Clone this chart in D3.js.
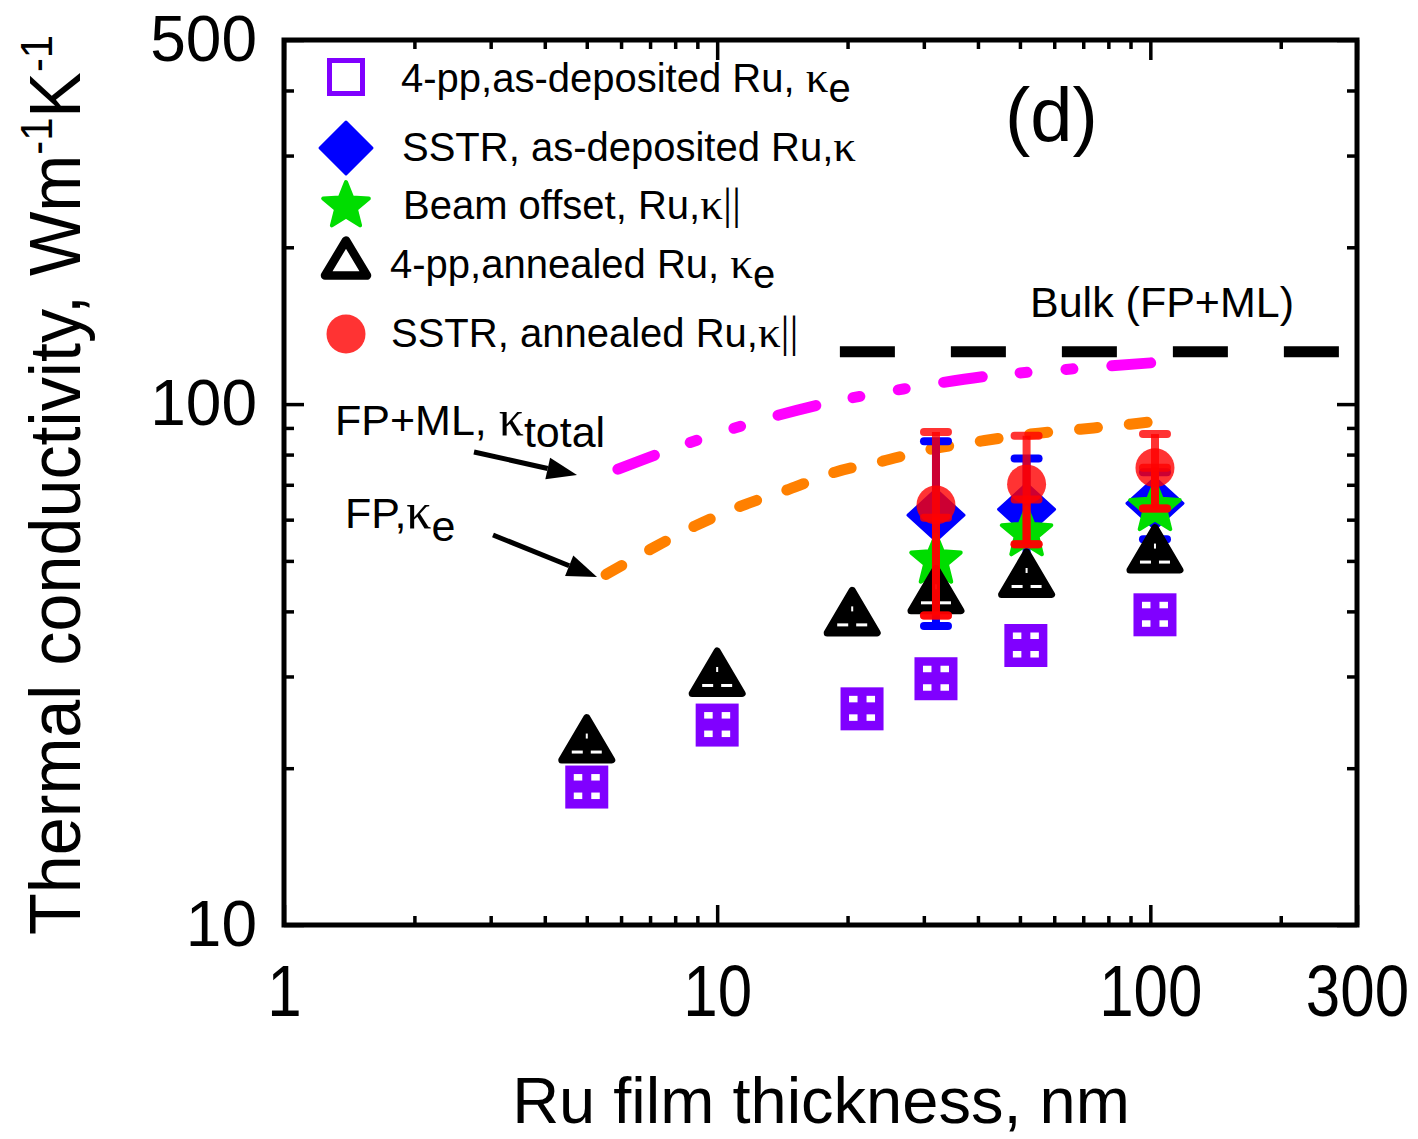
<!DOCTYPE html>
<html><head><meta charset="utf-8">
<script src="https://cdn.jsdelivr.net/npm/d3@7"></script>
<style>
body{margin:0;background:#fff}
svg{display:block}
text{font-family:"Liberation Sans",Arial,sans-serif;fill:#000}
</style>
</head><body>
<svg id="c" width="1418" height="1139"></svg>
<script>
// ---------- data ----------
const xMajorTicks = [1, 10, 100, 300];
const xMinorTicks = [2,3,4,5,6,7,8,9,20,30,40,50,60,70,80,90,200];
const yMajorTicks = [10, 100, 500];
const yMinorTicks = [20,30,40,50,60,70,80,90,200,300,400];

// 4-pp, as-deposited Ru (purple squares)
const sqX = [5.0, 10.0, 21.6, 32.0, 51.6, 102.5];
const sqY = [18.4, 24.2, 26.0, 29.7, 34.4, 39.4];
// 4-pp, annealed Ru (black triangles)
const triX = [5.0, 10.0, 20.5, 32.0, 51.8, 102.5];
const triY = [22.8, 30.6, 40.0, 44.1, 47.4, 52.8];
// SSTR, as-deposited Ru (blue diamonds)
const diaX = [32.0, 51.8, 102.5];
const diaY = [61.2, 62.8, 64.5];
const diaLo = [37.5, 47.0, 55.0];
const diaHi = [84.9, 78.6, 74.0];
// Beam offset (green stars)
const starX = [32.0, 51.8, 102.5];
const starY = [50.5, 57.0, 63.7];
const starLo = [39.3, 53.8, 63.0];
const starHi = [60.5, 65.6, 75.5];
// SSTR, annealed Ru (red circles)
const cirX = [32.0, 51.8, 102.5];
const cirY = [64.0, 70.2, 75.5];
const cirLo = [39.3, 53.8, 63.0];
const cirHi = [88.4, 86.9, 87.6];
// Model curves
const fpmlX = [5.9, 7.51, 11.34, 17.46, 26.9, 42.3, 65.7, 103];
const fpmlY = [75.0, 80.9, 90.7, 100, 106.9, 113.2, 116.8, 120.2];
const fpX = [5.54, 7.01, 8.87, 11.34, 14.63, 18.7, 24.1, 31.1, 40.6, 52.9, 69.0, 89.9, 103];
const fpY = [47.1, 52.6, 58.3, 63.7, 68.6, 74.0, 77.7, 81.9, 84.9, 87.6, 89.5, 91.5, 92.7];
const bulkX = [19.2, 275];
const bulkY = [126, 126];

const legendLabels = [
  ["4-pp,as-deposited Ru, ", "κ", "e", ""],
  ["SSTR, as-deposited Ru,", "κ", "", ""],
  ["Beam offset, Ru,", "κ", "", "||"],
  ["4-pp,annealed Ru, ", "κ", "e", ""],
  ["SSTR, annealed Ru,", "κ", "", "||"]
];

// ---------- layout ----------
const L = 284, R = 1357, T = 40, B = 925;
const x = d3.scaleLog().domain([1, 300]).range([L, R]);
const y = d3.scaleLog().domain([10, 500]).range([B, T]);
const svg = d3.select('#c');

const zip = (a, b) => a.map((v, i) => [v, b[i]]);

// ---------- axes ----------
function axisG(axis, tr) {
  const g = svg.append('g').attr('transform', tr).call(axis);
  g.select('.domain').remove();
  g.selectAll('line').attr('stroke', '#000').attr('stroke-width', 3.5);
  return g;
}
const fmt = d3.format('d');
const gxb = axisG(d3.axisBottom(x).tickValues(xMajorTicks).tickSize(-20).tickPadding(40).tickFormat(fmt), `translate(0,${B})`);
gxb.selectAll('text').attr('font-size', 72).attr('transform', 'scale(0.86,1)')
   .style('font-family', '"Liberation Sans",Arial,sans-serif');
axisG(d3.axisBottom(x).tickValues(xMinorTicks).tickSize(-9).tickFormat(''), `translate(0,${B})`);
axisG(d3.axisTop(x).tickValues(xMajorTicks).tickSize(-20).tickFormat(''), `translate(0,${T})`);
axisG(d3.axisTop(x).tickValues(xMinorTicks).tickSize(-9).tickFormat(''), `translate(0,${T})`);
const gyl = axisG(d3.axisLeft(y).tickValues(yMajorTicks).tickSize(-20).tickPadding(27).tickFormat(fmt), `translate(${L},0)`);
gyl.selectAll('text').attr('font-size', 64).style('font-family', '"Liberation Sans",Arial,sans-serif');
axisG(d3.axisLeft(y).tickValues(yMinorTicks).tickSize(-10).tickFormat(''), `translate(${L},0)`);
axisG(d3.axisRight(y).tickValues(yMajorTicks).tickSize(-20).tickFormat(''), `translate(${R},0)`);
axisG(d3.axisRight(y).tickValues(yMinorTicks).tickSize(-10).tickFormat(''), `translate(${R},0)`);

svg.append('rect').attr('x', L).attr('y', T).attr('width', R - L).attr('height', B - T)
  .attr('fill', 'none').attr('stroke', '#000').attr('stroke-width', 5);

// axis titles
svg.append('text').attr('x', 821).attr('y', 1123).attr('text-anchor', 'middle')
  .attr('font-size', 65).text('Ru film thickness, nm');

const yt = svg.append('text').attr('transform', 'translate(80,485) rotate(-90)')
  .attr('text-anchor', 'middle').attr('font-size', 72)
  .attr('textLength', 900).attr('lengthAdjust', 'spacingAndGlyphs');
yt.append('tspan').text('Thermal conductivity, Wm');
yt.append('tspan').attr('font-size', 44).attr('dy', -28).text('-1');
yt.append('tspan').attr('dy', 28).text('K');
yt.append('tspan').attr('font-size', 44).attr('dy', -28).text('-1');

// ---------- curves ----------
const line = d3.line().x(d => x(d[0])).y(d => y(d[1])).curve(d3.curveMonotoneX);
svg.append('path').attr('d', line(zip(bulkX, bulkY))).attr('fill', 'none')
  .attr('stroke', '#000').attr('stroke-width', 11).attr('stroke-dasharray', '55,56');
svg.append('path').attr('d', line(zip(fpmlX, fpmlY))).attr('fill', 'none')
  .attr('stroke', '#ff00ff').attr('stroke-width', 11).attr('stroke-linecap', 'round')
  .attr('stroke-dasharray', '39,38,7,39,7,39');
svg.append('path').attr('d', line(zip(fpX, fpY))).attr('fill', 'none')
  .attr('stroke', '#ff8000').attr('stroke-width', 11).attr('stroke-linecap', 'round')
  .attr('stroke-dasharray', '18,32');

// ---------- marker helpers ----------
function drawSquareFilled(g) {
  const s = 43, h = s / 2;
  g.append('rect').attr('x', -h).attr('y', -h).attr('width', s).attr('height', s).attr('fill', '#8000ff');
  [[8.5, 8.5], [26, 8.5], [8.5, 27], [26, 27]].forEach(([dx, dy]) =>
    g.append('rect').attr('x', -h + dx).attr('y', -h + dy).attr('width', 8.5).attr('height', 6.5).attr('fill', '#fff'));
}
function drawTriangleFilled(g) {
  g.append('path').attr('d', 'M0,-21L25,21.5L-25,21.5Z').attr('fill', '#000')
    .attr('stroke', '#000').attr('stroke-width', 7).attr('stroke-linejoin', 'round');
  g.append('rect').attr('x', -15).attr('y', 12).attr('width', 11).attr('height', 3).attr('fill', '#fff');
  g.append('rect').attr('x', 4).attr('y', 12).attr('width', 11).attr('height', 3).attr('fill', '#fff');
  g.append('rect').attr('x', -1).attr('y', -5).attr('width', 2).attr('height', 5).attr('fill', '#fff');
}
function diamondPath(w, h) { return `M0,${-h}L${w},0L0,${h}L${-w},0Z`; }
function starPath(Ro, Ri) {
  const p = [];
  for (let i = 0; i < 10; i++) {
    const r = i % 2 ? Ri : Ro, a = -Math.PI / 2 + i * Math.PI / 5;
    p.push([r * Math.cos(a), r * Math.sin(a)]);
  }
  return 'M' + p.map(d => d.join(',')).join('L') + 'Z';
}
function errBar(g, px, y1, y2, color, capHalf) {
  const op = color === '#ff0000' ? 0.8 : 1;
  g.append('line').attr('x1', px).attr('x2', px).attr('y1', y1).attr('y2', y2)
    .attr('stroke', color).attr('stroke-width', 8).attr('stroke-opacity', op);
  [y1, y2].forEach(yy => g.append('line').attr('x1', px - capHalf).attr('x2', px + capHalf)
    .attr('y1', yy).attr('y2', yy).attr('stroke', color).attr('stroke-width', 8)
    .attr('stroke-linecap', 'round').attr('stroke-opacity', op));
}

// ---------- data marks ----------
const gm = svg.append('g');
sqX.forEach((v, i) => drawSquareFilled(gm.append('g').attr('transform', `translate(${x(v)},${y(sqY[i])})`)));
diaX.forEach((v, i) => errBar(gm, x(v), y(diaHi[i]), y(diaLo[i]), '#0000ff', 12));
diaX.forEach((v, i) => gm.append('path').attr('d', diamondPath(28, 25.5))
  .attr('transform', `translate(${x(v)},${y(diaY[i])})`).attr('fill', '#0000ff')
  .attr('stroke', '#0000ff').attr('stroke-width', 3).attr('stroke-linejoin', 'round'));
starX.forEach((v, i) => gm.append('path').attr('d', starPath(26, 11.5))
  .attr('transform', `translate(${x(v)},${y(starY[i]) + 2})`).attr('fill', '#00dd00')
  .attr('stroke', '#00dd00').attr('stroke-width', 4).attr('stroke-linejoin', 'round'));
triX.forEach((v, i) => drawTriangleFilled(gm.append('g').attr('transform', `translate(${x(v)},${y(triY[i])})`)));
cirX.forEach((v, i) => gm.append('circle').attr('cx', x(v)).attr('cy', y(cirY[i])).attr('r', 19.5)
  .attr('fill', '#ff0000').attr('fill-opacity', 0.8));
cirX.forEach((v, i) => errBar(gm, x(v), y(cirHi[i]), y(cirLo[i]), '#ff0000', 12));
starX.forEach((v, i) => errBar(gm, x(v), y(starHi[i]), y(starLo[i]), '#ff0000', 12));

// ---------- legend ----------
const lgY = [77, 148, 204, 258, 334];
const lgTextX = [401, 402, 403, 390, 391];
const lgBase = [92, 161, 219, 278, 347];
const lg = svg.append('g');
lg.append('rect').attr('x', 346 - 16.5).attr('y', lgY[0] - 16.5).attr('width', 33).attr('height', 33)
  .attr('fill', 'none').attr('stroke', '#8000ff').attr('stroke-width', 5);
lg.append('path').attr('d', diamondPath(26, 26)).attr('transform', `translate(346,${lgY[1]})`)
  .attr('fill', '#0000ff').attr('stroke', '#0000ff').attr('stroke-width', 3).attr('stroke-linejoin', 'round');
lg.append('path').attr('d', starPath(24, 10.5)).attr('transform', `translate(346,${lgY[2] + 2})`)
  .attr('fill', '#00dd00').attr('stroke', '#00dd00').attr('stroke-width', 4).attr('stroke-linejoin', 'round');
lg.append('path').attr('d', 'M0,-17.5L21,17.5L-21,17.5Z').attr('transform', `translate(346,${lgY[3]})`)
  .attr('fill', 'none').attr('stroke', '#000').attr('stroke-width', 8.5).attr('stroke-linejoin', 'round');
lg.append('circle').attr('cx', 346).attr('cy', lgY[4]).attr('r', 19.5).attr('fill', '#ff0000').attr('fill-opacity', 0.8);

legendLabels.forEach((lab, i) => {
  const t = lg.append('text').attr('x', lgTextX[i]).attr('y', lgBase[i]).attr('font-size', 40);
  t.append('tspan').text(lab[0]);
  t.append('tspan').style('font-family', '"Liberation Serif","Times New Roman",serif').attr('font-size', 45).text(lab[1]);
  if (lab[2]) t.append('tspan').attr('dy', 10).text(lab[2]);
  if (lab[3]) t.append('tspan').style('font-family', '"Liberation Serif","Times New Roman",serif').attr('font-size', 45).text(lab[3]);
});

// ---------- annotations ----------
svg.append('text').attr('x', 1005).attr('y', 141).attr('font-size', 76).text('(d)');
svg.append('text').attr('x', 1030).attr('y', 317).attr('font-size', 43).text('Bulk (FP+ML)');

const a1 = svg.append('text').attr('x', 335).attr('y', 435).attr('font-size', 43);
a1.append('tspan').text('FP+ML, ');
a1.append('tspan').style('font-family', '"Liberation Serif","Times New Roman",serif').attr('font-size', 50).text('κ');
a1.append('tspan').attr('dy', 12).text('total');

const a2 = svg.append('text').attr('x', 345).attr('y', 528).attr('font-size', 43);
a2.append('tspan').text('FP,');
a2.append('tspan').style('font-family', '"Liberation Serif","Times New Roman",serif').attr('font-size', 50).text('κ');
a2.append('tspan').attr('dy', 13).text('e');

function arrow(x1, y1, x2, y2) {
  const ang = Math.atan2(y2 - y1, x2 - x1), len = 30, hw = 11;
  const bx = x2 - len * Math.cos(ang), by = y2 - len * Math.sin(ang);
  svg.append('line').attr('x1', x1).attr('y1', y1).attr('x2', bx).attr('y2', by)
    .attr('stroke', '#000').attr('stroke-width', 5);
  const px = -Math.sin(ang) * hw, py = Math.cos(ang) * hw;
  svg.append('path').attr('d', `M${x2},${y2}L${bx + px},${by + py}L${bx - px},${by - py}Z`).attr('fill', '#000');
}
arrow(474, 452, 577, 475);
arrow(493, 535, 597, 577);
</script>
</body></html>
